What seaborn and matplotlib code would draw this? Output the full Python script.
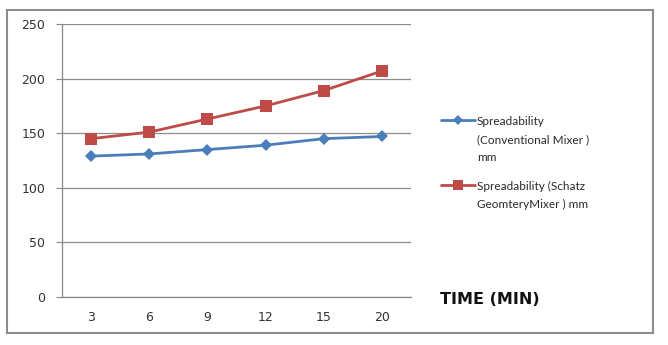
import matplotlib
matplotlib.use("Agg")
import matplotlib.pyplot as plt
from matplotlib.patches import Rectangle
from matplotlib.lines import Line2D
import seaborn as sns
import pandas as pd

times = ["3", "6", "9", "12", "15", "20"]
conventional = [129, 131, 135, 139, 145, 147]
schatz = [145, 151, 163, 175, 189, 207]
series_names = ["Spreadability\n(Conventional Mixer )\nmm",
                "Spreadability (Schatz\nGeomteryMixer ) mm"]
y_ticks = [0, 50, 100, 150, 200, 250]

df = pd.DataFrame({
    "pos": list(range(len(times))) * 2,
    "value": conventional + schatz,
    "series": [series_names[0]] * len(times) + [series_names[1]] * len(times),
})

sns.set_style("white")
plt.rcParams["font.family"] = ["DejaVu Sans"]

fig = plt.figure(figsize=(6.68, 3.45), dpi=100)
ax = fig.add_axes([62 / 668, 1 - 297 / 345, (411 - 62) / 668, (297 - 24) / 345])

colors = {series_names[0]: "#4A7EBB", series_names[1]: "#BE4B48"}
markers = {series_names[0]: "D", series_names[1]: "s"}
sns.lineplot(data=df, x="pos", y="value", hue="series", style="series",
             palette=colors, markers=markers, dashes=False, linewidth=2.0,
             markersize=8.5, markeredgewidth=0, ax=ax, legend=False)
# diamonds smaller than the squares
for line in ax.lines:
    if line.get_marker() == "D":
        line.set_markersize(6)

ax.set_xlim(-0.5, len(times) - 0.5)
ax.set_ylim(0, 250)
ax.set_yticks(y_ticks)
ax.set_xticks(range(len(times)))
ax.set_xticklabels(times)
ax.set_xticks([i - 0.5 for i in range(len(times) + 1)], minor=True)
ax.tick_params(axis="x", which="major", length=0, pad=10, labelsize=9, labelcolor="#333333")
ax.tick_params(axis="x", which="minor", length=4, color="#888888", direction="out")
ax.tick_params(axis="y", length=4, color="#888888", direction="out", labelsize=9,
               left=True, pad=8, labelcolor="#333333")
ax.yaxis.grid(True, color="#8C8C8C", linewidth=0.9)
ax.xaxis.grid(False)
for side in ["top", "right"]:
    ax.spines[side].set_visible(False)
for side in ["left", "bottom"]:
    ax.spines[side].set_color("#888888")
    ax.spines[side].set_linewidth(0.9)
ax.set_xlabel("")
ax.set_ylabel("")
ax.set_axisbelow(True)

handles = [Line2D([], [], color=colors[n], marker=markers[n], linewidth=2.0,
                  markersize=5.5 if markers[n] == "D" else 7, markeredgewidth=0)
           for n in series_names]
leg = fig.legend(handles, series_names, loc="upper left",
                 bbox_to_anchor=(430 / 668, 1 - 105.5 / 345),
                 frameon=False, prop={"family": "Lato", "size": 8.5},
                 handlelength=2.9, handletextpad=0.15,
                 labelspacing=1.5, labelcolor="#2A2A2A")
for t in leg.get_texts():
    t.set_linespacing(1.78)
# put each legend key beside the first line of its label
for column in leg._legend_handle_box.get_children():
    for row in column.get_children():
        row.align = "top"

fig.text(440 / 668, 1 - 299 / 345, "TIME (MIN)", fontsize=11.5, fontweight="bold",
         va="center", ha="left", color="#111111")

fig.patches.append(Rectangle((7 / 668, 1 - 333 / 345), (653 - 7) / 668, (333 - 10) / 345,
                             transform=fig.transFigure, fill=False,
                             edgecolor="#8C8C8C", linewidth=1.5))

fig.savefig("out.png", dpi=100)
